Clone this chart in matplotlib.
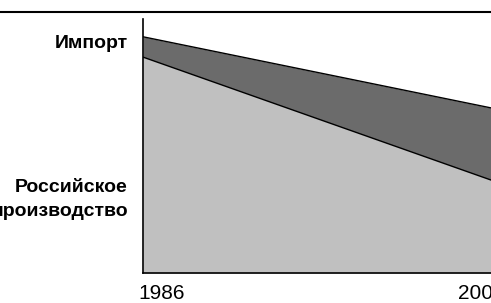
import matplotlib.pyplot as plt

# x positions of the drawn segment (left axis to right edge of the picture)
years = [1985.2, 2000.4]
tick_years = [1986, 2000]
total = [93, 65]       # import + domestic (top of dark band)
domestic = [85, 36.6]  # Russian production (top of light area)

plt.rcParams['font.family'] = ['Liberation Sans', 'DejaVu Sans']

fig = plt.figure(figsize=(4.91, 3.03), dpi=100)
ax = fig.add_axes([143 / 491, 30 / 303, 1 - 143 / 491, 254 / 303])

ax.fill_between(years, domestic, total, color='#6b6b6b', lw=0)
ax.fill_between(years, 0, domestic, color='#c0c0c0', lw=0)
ax.plot(years, total, color='black', lw=1)
ax.plot(years, domestic, color='black', lw=1)

ax.set_xlim(years[0], years[1])
ax.set_ylim(0, 100)
for s in ['top', 'right']:
    ax.spines[s].set_visible(False)
ax.spines['left'].set_linewidth(1.2)
ax.spines['bottom'].set_linewidth(1.2)
ax.set_yticks([])
ax.set_xticks(tick_years)
ax.set_xticklabels([str(y) for y in tick_years], fontsize=15)
ax.tick_params(axis='x', length=0, pad=8)

# labels on the left
lab = dict(ha='right', va='center', fontsize=14, fontweight='bold')
fig.text(128 / 491, 1 - 44 / 303, 'Импорт', **lab)
fig.text(128 / 491, 1 - 188 / 303, 'Российское', **lab)
fig.text(128 / 491, 1 - 212 / 303, 'производство', **lab)

# rule across the top
fig.add_artist(plt.Line2D([0, 1], [1 - 12 / 303, 1 - 12 / 303], color='black', lw=1.5))

fig.savefig('out.png', dpi=100)
